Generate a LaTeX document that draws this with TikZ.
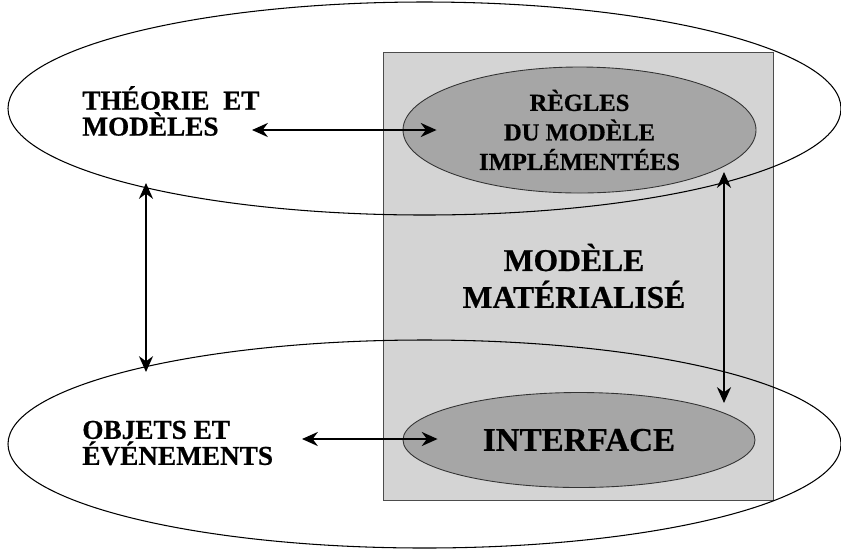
\documentclass[tikz,border=0pt]{standalone}
\usepackage{fontspec}
\setmainfont[BoldFeatures={FakeBold=0.6}]{Liberation Serif}
\usepackage{xcolor}
\usetikzlibrary{shapes.geometric, arrows.meta, positioning, calc}

\definecolor{fond}{gray}{0.83}
\definecolor{ovale}{gray}{0.65}

\begin{document}
\begin{tikzpicture}[x=0.2mm, y=-0.2mm,
  grand/.style={ellipse, draw, line width=0.6pt, inner sep=0},
  petit/.style={ellipse, draw=black!80, fill=ovale, line width=0.5pt, inner sep=0},
  fleche/.style={{Stealth[length=9pt,width=8pt]}-{Stealth[length=9pt,width=8pt]}, line width=1.2pt},
  titre/.style={font=\bfseries\fontsize{15.5}{14.8}\selectfont, align=left, inner sep=0}]
\useasboundingbox (0,0) rectangle (841,550);

% Boite du modele materialise
\node[draw=black!70, fill=fond, line width=0.5pt, inner sep=0, anchor=north west,
  minimum width=78mm, minimum height=89.6mm] (boite) at (383,52) {};
\node[font=\bfseries\fontsize{18}{21}\selectfont, align=center, inner sep=0] (materialise) at (574,276) {MODÈLE\\MATÉRIALISÉ};

% Grandes ellipses
\node[grand, minimum width=166.6mm, minimum height=42.6mm] (theorique) at (424.5,108.5) {};
\node[grand, minimum width=166.6mm, minimum height=41.6mm] (empirique) at (424.5,444) {};

% Ellipses grises
\node[petit, minimum width=70.6mm, minimum height=25.2mm, align=center,
  font=\bfseries\fontsize{14}{16.8}\selectfont] (regles) at (579.5,130) {RÈGLES\\DU MODÈLE\\IMPLÉMENTÉES};
\node[petit, minimum width=70.4mm, minimum height=19mm,
  font=\bfseries\fontsize{18.8}{21}\selectfont] (interface) at (579,440) {INTERFACE};

% Etiquettes
\node[titre, anchor=west] (theorie) at (82,111) {THÉORIE\ \ ET\\MODÈLES};
\node[titre, anchor=west] (objets) at (82,443) {OBJETS ET\\ÉVÉNEMENTS};

% Fleches
\coordinate (t1) at (252,130);
\coordinate (o1) at (302,439);
\coordinate (g1) at (146,183);
\coordinate (g2) at (146,372);
\coordinate (d1) at (724,172);
\coordinate (d2) at (724,403);
\draw[fleche] (t1) -- ($(regles.west)+(34,0)$);
\draw[fleche] (o1) -- ($(interface.west)+(35,-1)$);
\draw[fleche] (g1) -- (g2);
\draw[fleche] (d1) -- (d2);
\end{tikzpicture}
\end{document}
